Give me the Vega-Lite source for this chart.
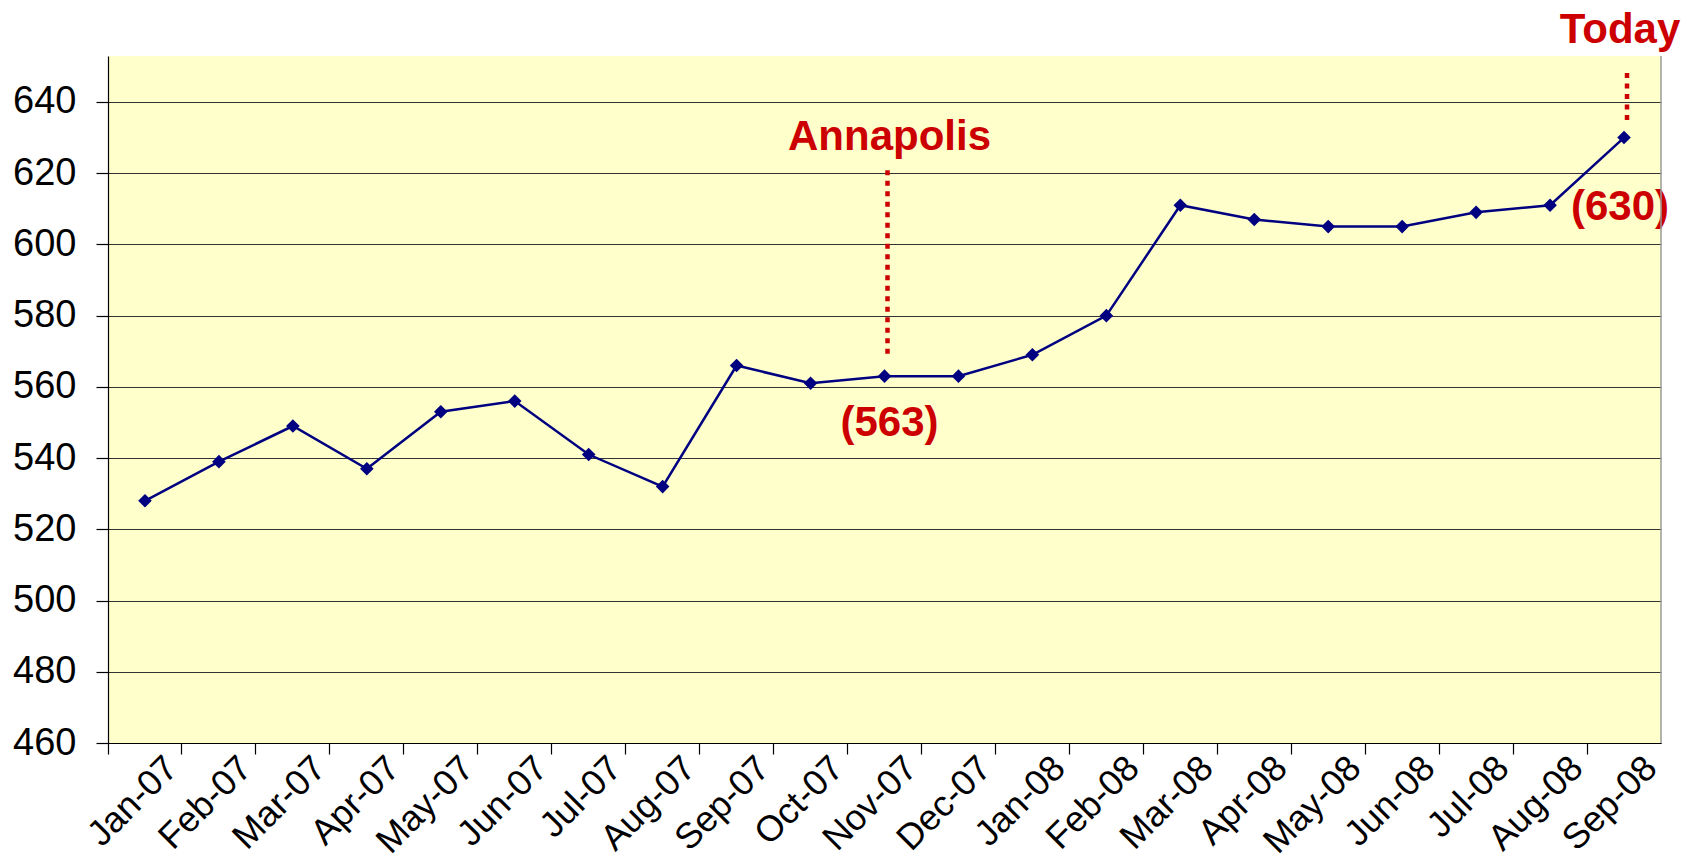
{
  "$schema": "https://vega.github.io/schema/vega-lite/v6.json",
  "autosize": {"type": "none"},
  "width": 1553,
  "height": 687,
  "padding": {"left": 108, "top": 56, "right": 33, "bottom": 120},
  "background": "white",
  "config": {
    "view": {"stroke": null, "fill": "#FFFFCC"},
    "font": "Liberation Sans",
    "axis": {"labelFont": "Liberation Sans", "labelColor": "#000000", "tickColor": "#000000", "domainColor": "#000000", "domainWidth": 1.2, "tickWidth": 1.2}
  },
  "datasets": {
    "series": [
      {"month": "Jan-07", "value": 528},
      {"month": "Feb-07", "value": 539},
      {"month": "Mar-07", "value": 549},
      {"month": "Apr-07", "value": 537},
      {"month": "May-07", "value": 553},
      {"month": "Jun-07", "value": 556},
      {"month": "Jul-07", "value": 541},
      {"month": "Aug-07", "value": 532},
      {"month": "Sep-07", "value": 566},
      {"month": "Oct-07", "value": 561},
      {"month": "Nov-07", "value": 563},
      {"month": "Dec-07", "value": 563},
      {"month": "Jan-08", "value": 569},
      {"month": "Feb-08", "value": 580},
      {"month": "Mar-08", "value": 611},
      {"month": "Apr-08", "value": 607},
      {"month": "May-08", "value": 605},
      {"month": "Jun-08", "value": 605},
      {"month": "Jul-08", "value": 609},
      {"month": "Aug-08", "value": 611},
      {"month": "Sep-08", "value": 630}
    ],
    "markers": [
      {"month": "Nov-07", "from": 569.3, "to": 621.5},
      {"month": "Sep-08", "from": 634.9, "to": 648.4}
    ],
    "notes": [
      {"month": "Nov-07", "text": "Annapolis", "y": 626.5},
      {"month": "Nov-07", "text": "(563)", "y": 546.1},
      {"month": "Sep-08", "text": "(630)", "y": 606.9},
      {"month": "Sep-08", "text": "Today", "y": 656.6}
    ]
  },
  "layer": [
    {
      "data": {"name": "series"},
      "mark": {"type": "line", "color": "#000080", "strokeWidth": 2.5},
      "encoding": {
        "x": {
          "field": "month", "type": "nominal", "sort": null,
          "scale": {"type": "band", "paddingInner": 0, "paddingOuter": 0,
            "domain": ["Jan-07", "Feb-07", "Mar-07", "Apr-07", "May-07", "Jun-07", "Jul-07", "Aug-07", "Sep-07", "Oct-07", "Nov-07", "Dec-07", "Jan-08", "Feb-08", "Mar-08", "Apr-08", "May-08", "Jun-08", "Jul-08", "Aug-08", "Sep-08"]},
          "axis": {
            "title": null, "grid": false, "bandPosition": 0,
            "labelAngle": -45, "labelAlign": "right", "labelBaseline": "middle",
            "labelFontSize": 36, "labelOffset": 27, "labelPadding": 8, "tickSize": 11
          }
        },
        "y": {
          "field": "value", "type": "quantitative",
          "scale": {"domain": [460, 652.9], "nice": false, "zero": false},
          "axis": {
            "title": null, "values": [460, 480, 500, 520, 540, 560, 580, 600, 620, 640],
            "grid": true, "gridColor": "#333333", "gridWidth": 1.2, "gridOpacity": 1,
            "labelFontSize": 38, "labelPadding": 20, "tickSize": 12
          }
        }
      }
    },
    {
      "data": {"name": "series"},
      "mark": {"type": "point", "shape": "diamond", "filled": true, "color": "#000080", "size": 185, "opacity": 1},
      "encoding": {
        "x": {"field": "month", "type": "nominal", "sort": null},
        "y": {"field": "value", "type": "quantitative"}
      }
    },
    {
      "data": {"name": "markers"},
      "mark": {"type": "rule", "color": "#CC0000", "strokeWidth": 4.5, "strokeDash": [5, 5.5], "xOffset": 3},
      "encoding": {
        "x": {"field": "month", "type": "nominal", "sort": null},
        "y": {"field": "from", "type": "quantitative"},
        "y2": {"field": "to"}
      }
    },
    {
      "data": {"name": "notes"},
      "transform": [{"filter": "datum.month === 'Nov-07'"}],
      "mark": {"type": "text", "color": "#CC0000", "fontSize": 42, "fontWeight": "bold", "font": "Liberation Sans", "align": "center", "baseline": "alphabetic", "dx": 5},
      "encoding": {
        "x": {"field": "month", "type": "nominal", "sort": null},
        "y": {"field": "y", "type": "quantitative"},
        "text": {"field": "text"}
      }
    },
    {
      "data": {"name": "notes"},
      "transform": [{"filter": "datum.month === 'Sep-08'"}],
      "mark": {"type": "text", "color": "#CC0000", "fontSize": 42, "fontWeight": "bold", "font": "Liberation Sans", "align": "center", "baseline": "alphabetic", "dx": -4},
      "encoding": {
        "x": {"field": "month", "type": "nominal", "sort": null},
        "y": {"field": "y", "type": "quantitative"},
        "text": {"field": "text"}
      }
    },
    {
      "data": {"name": "series"},
      "transform": [{"filter": "datum.month === 'Sep-08'"}],
      "mark": {"type": "rule", "color": "#9a9a9a", "strokeWidth": 1.5},
      "encoding": {
        "x": {"field": "month", "type": "nominal", "sort": null, "bandPosition": 1}
      }
    }
  ]
}
